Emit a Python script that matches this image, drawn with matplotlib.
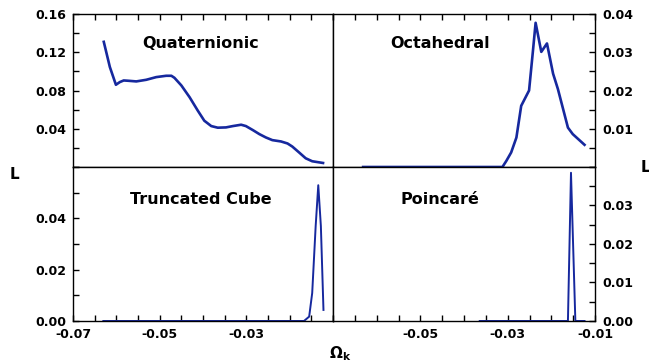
import matplotlib
matplotlib.use("Agg")
import matplotlib.pyplot as plt
from matplotlib.ticker import MultipleLocator, FixedLocator, FormatStrFormatter

plt.rcParams['font.family'] = ['DejaVu Sans']
plt.rcParams['font.weight'] = 'bold'
plt.rcParams['mathtext.fontset'] = 'dejavusans'

# data (Omega_k, likelihood)
quat_x = [-0.0629, -0.0615, -0.0601, -0.0592, -0.0583, -0.0573, -0.0554, -0.0531,
          -0.0508, -0.0485, -0.0473, -0.0466, -0.0450, -0.0431, -0.0412, -0.0397,
          -0.0381, -0.0366, -0.0347, -0.0331, -0.0312, -0.0301, -0.0285, -0.0270,
          -0.0255, -0.0240, -0.0220, -0.0205, -0.0194, -0.0178, -0.0163, -0.0148,
          -0.0123]
quat_y = [0.1309, 0.1046, 0.0860, 0.0888, 0.0905, 0.0902, 0.0895, 0.0912,
          0.0940, 0.0954, 0.0954, 0.0933, 0.0853, 0.0730, 0.0589, 0.0484,
          0.0428, 0.0411, 0.0414, 0.0428, 0.0442, 0.0428, 0.0386, 0.0344,
          0.0309, 0.0281, 0.0267, 0.0246, 0.0214, 0.0151, 0.0091, 0.0060,
          0.0042]

octa_x = [-0.0631, -0.0312, -0.0303, -0.0292, -0.0280, -0.0269, -0.0251, -0.0242,
          -0.0236, -0.0223, -0.0210, -0.0196, -0.0185, -0.0162, -0.0151, -0.0124]
octa_y = [0.0, 0.0, 0.0016, 0.0038, 0.0077, 0.0160, 0.0200, 0.0305,
          0.0377, 0.0301, 0.0323, 0.0244, 0.0204, 0.0103, 0.0086, 0.0058]

trunc_x = [-0.0630, -0.0167, -0.0155, -0.0148, -0.0140, -0.0134, -0.0128, -0.0122]
trunc_y = [0.0, 0.0, 0.0017, 0.0109, 0.0370, 0.0529, 0.0370, 0.0043]

poin_x = [-0.0364, -0.0162, -0.0155, -0.0145, -0.0124]
poin_y = [0.0, 0.0, 0.0385, 0.0, 0.0]

color = '#16289e'

fig = plt.figure(figsize=(6.49, 3.62), dpi=100)
L, M, R = 0.1125, 0.5131, 0.9168
T, C, B = 0.9613, 0.5387, 0.1133
ax_tl = fig.add_axes([L, C, M - L, T - C])
ax_tr = fig.add_axes([M, C, R - M, T - C])
ax_bl = fig.add_axes([L, B, M - L, C - B])
ax_br = fig.add_axes([M, B, R - M, C - B])

panels = [
    (ax_tl, quat_x, quat_y, 'Quaternionic', 0.16, [0.04, 0.08, 0.12, 0.16], 0.02, 'left', 'top', 0.49, 0.81),
    (ax_tr, octa_x, octa_y, 'Octahedral', 0.04, [0.01, 0.02, 0.03, 0.04], 0.005, 'right', 'top', 0.41, 0.81),
    (ax_bl, trunc_x, trunc_y, 'Truncated Cube', 0.06, [0.0, 0.02, 0.04], 0.01, 'left', 'bottom', 0.49, 0.79),
    (ax_br, poin_x, poin_y, 'Poincaré', 0.04, [0.0, 0.01, 0.02, 0.03], 0.005, 'right', 'bottom', 0.41, 0.79),
]

for ax, xs, ys, title, ymax, yt, yminor, yside, xside, tx, ty in panels:
    lw = 1.9 if xside == 'top' else 1.4
    ax.plot(xs, ys, color=color, lw=lw, solid_joinstyle='round')
    ax.set_xlim(-0.07, -0.01)
    ax.set_ylim(0, ymax)
    ax.yaxis.set_major_locator(FixedLocator(yt))
    ax.yaxis.set_minor_locator(MultipleLocator(yminor))
    ax.xaxis.set_major_locator(MultipleLocator(0.02))
    ax.xaxis.set_minor_locator(MultipleLocator(0.005))
    ax.yaxis.set_major_formatter(FormatStrFormatter('%.2f'))
    ax.xaxis.set_major_formatter(FormatStrFormatter('%.2f'))
    ax.tick_params(which='both', direction='in', length=4, width=1,
                   labelsize=9, pad=5,
                   left=(yside == 'left'), right=(yside == 'right'),
                   labelleft=(yside == 'left'), labelright=(yside == 'right'),
                   top=(xside == 'top'), bottom=(xside == 'bottom'),
                   labeltop=False, labelbottom=(xside == 'bottom'))
    for s in ax.spines.values():
        s.set_linewidth(1.0)
    ax.text(tx, ty, title, transform=ax.transAxes, ha='center', va='center',
            fontsize=11.5, fontweight='bold')
    for lab in ax.get_xticklabels() + ax.get_yticklabels():
        lab.set_fontweight('bold')

# -0.07 is labelled on the left panel only
ax_br.xaxis.set_major_locator(FixedLocator([-0.05, -0.03, -0.01]))
ax_bl.xaxis.set_major_locator(FixedLocator([-0.07, -0.05, -0.03]))

fig.text(14 / 649, 1 - 175 / 362, 'L', fontsize=11, fontweight='bold', ha='center', va='center')
fig.text(645 / 649, 1 - 167 / 362, 'L', fontsize=11, fontweight='bold', ha='center', va='center')
fig.text(340 / 649, 1 - 354 / 362, r'$\mathbf{\Omega}_\mathbf{k}$', fontsize=11,
         ha='center', va='center')

fig.savefig('out.png', dpi=100)
